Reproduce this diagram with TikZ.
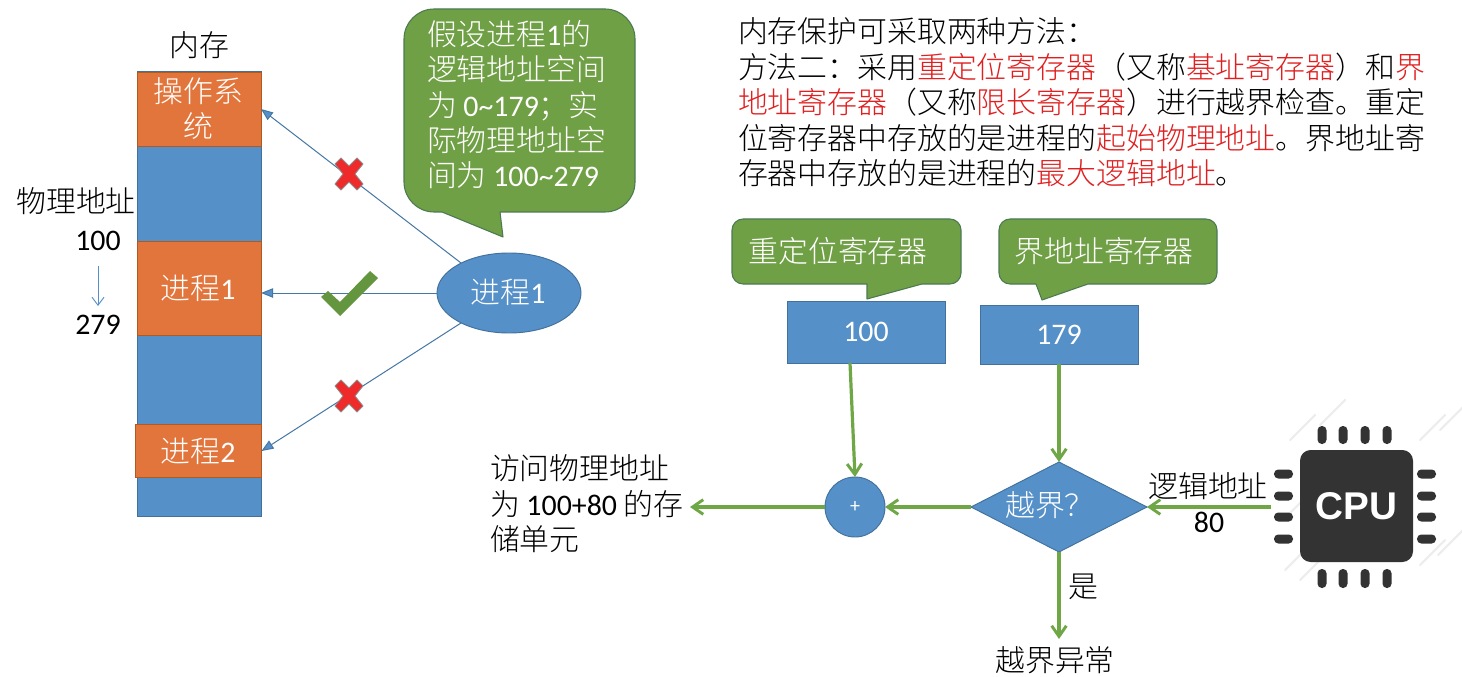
\documentclass[tikz,border=0pt]{standalone}
\usepackage{fontspec}
\setmainfont{Noto Sans CJK SC Light}
\newfontfamily\latinf{Carlito}
\newfontfamily\cpuf{Liberation Sans}
\newcommand\lt[1]{{\latinf #1}}
\newcommand\hl[1]{\textcolor{mred}{#1}}
\usetikzlibrary{arrows.meta,shapes.geometric,calc}
\definecolor{mblue}{HTML}{5590C8}
\definecolor{mborder}{HTML}{41719C}
\definecolor{morange}{HTML}{E2753B}
\definecolor{oborder}{HTML}{AE5A21}
\definecolor{mgreen}{HTML}{70A045}
\definecolor{gborder}{HTML}{507E32}
\definecolor{lgreen}{HTML}{6FA646}
\definecolor{mred}{HTML}{E02020}
\definecolor{xred}{HTML}{EE2A2A}
\definecolor{cpu}{HTML}{333333}
\tikzset{
  x=0.75pt,y=-0.75pt,
  txt/.style={inner sep=0pt,outer sep=0pt,text=black,font=\fontsize{22.4}{26.6}\selectfont},
  wtxt/.style={txt,text=white},
  block/.style={draw=#1,line width=0.7pt,inner sep=0pt,outer sep=0pt},
  thin arrow/.style={draw=mborder!80!mblue,line width=0.75pt,-{Triangle[length=9pt,width=7pt,fill=mblue]}},
  green arrow/.style={draw=lgreen,line width=2.4pt,-{Straight Barb[length=8pt,width=11pt,line width=2.2pt]}},
  callout/.style={fill=mgreen,draw=gborder!70!mborder,line width=0.8pt,line join=round},
  pin/.style={fill=cpu,draw=none,rounded corners=3.2pt},
  hatch/.style={draw=black!7,line width=1.6pt,line cap=round},
  xmark/.style={fill=xred,draw=black!45,line width=0.6pt,line join=round},
}
\begin{document}
\begin{tikzpicture}
\useasboundingbox (0,0) rectangle (1462,677);
\fill[white] (0,0) rectangle (1462,677);
% memory column
\node[block=mborder,fill=mblue,minimum width=93pt,minimum height=333.75pt,anchor=north west] (mem) at (137,71) {};
\node[block=oborder,fill=morange,minimum width=93pt,minimum height=55.5pt,anchor=north west] (os) at (137,72) {};
\node[block=oborder,fill=morange,minimum width=93pt,minimum height=70.5pt,anchor=north west] (proc1) at (137,241.5) {};
\node[block=oborder,fill=morange,minimum width=94.5pt,minimum height=39.75pt,anchor=north west] (proc2) at (135.5,424.5) {};
\node[wtxt,align=center] (ostext) at (198.5,108.5) {操作系\\统};
\node[wtxt] (p1text) at (198,288) {进程\lt{1}};
\node[wtxt] (p2text) at (198,451) {进程\lt{2}};
\node[txt] (memlabel) at (199.5,45) {内存};
\node[txt] (physlabel) at (76,201) {物理地址};
\node[txt] (n100) at (98,241) {\lt{100}};
\node[txt] (n279) at (98,325) {\lt{279}};
\coordinate (dtop) at (98,266);
\coordinate (dbot) at (98,306);
\draw[draw=mblue,line width=0.7pt,-{Straight Barb[length=6pt,width=9pt,line width=0.7pt]}] (dtop) -- (dbot);
% process ellipse
\node[ellipse,fill=mblue,draw=mborder,line width=0.7pt,minimum width=108pt,minimum height=60pt,inner sep=0pt,outer sep=0pt] (ell) at (509,293) {};
\node[wtxt] (elltext) at (508,292) {进程\lt{1}};
\draw[thin arrow] (ell.148) -- (os.east);
\draw[thin arrow] (ell.west) -- (ell.west -| proc1.east);
\draw[thin arrow] (ell.212) -- (proc2.east);
% marks
\draw[xmark] (349,158) ++(-8,0) -- ++(8,8) -- ++(8,-8) -- ++(6,6) -- ++(-8,10) -- ++(8,10) -- ++(-6,6) -- ++(-8,-8) -- ++(-8,8) -- ++(-6,-6) -- ++(8,-10) -- ++(-8,-10) -- cycle;
\draw[xmark] (349,380) ++(-8,0) -- ++(8,8) -- ++(8,-8) -- ++(6,6) -- ++(-8,10) -- ++(8,10) -- ++(-6,6) -- ++(-8,-8) -- ++(-8,8) -- ++(-6,-6) -- ++(8,-10) -- ++(-8,-10) -- cycle;
\fill[fill=lgreen!90!black] (321,297) -- (328,291) -- (340,302) -- (370,271) -- (378,278) -- (340,316) -- cycle;
% big callout
\draw[callout] (434,9) -- (605,9) .. controls (621.5,9) and (635,22.5) .. (635,39) -- (635,182) .. controls (635,198.5) and (621.5,212) .. (605,212) -- (500,212) -- (503,237) -- (442,212) -- (434,212) .. controls (417.5,212) and (404,198.5) .. (404,182) -- (404,39) .. controls (404,22.5) and (417.5,9) .. (434,9) -- cycle;
\node[wtxt,align=left,anchor=north west] (calltext) at (427,20) {假设进程\lt{1}的\\逻辑地址空间\\为 \lt{0\textasciitilde179}；实\\际物理地址空\\间为 \lt{100\textasciitilde279}};
% explanation
\node[txt,anchor=west] (head) at (738,31) {内存保护可采取两种方法：};
\node[txt,align=left,anchor=north west] (para) at (738,53) {方法二：采用\hl{重定位寄存器}（又称\hl{基址寄存器}）和\hl{界}\\\hl{地址寄存器}（又称\hl{限长寄存器}）进行越界检查。重定\\位寄存器中存放的是进程的\hl{起始物理地址}。界地址寄\\存器中存放的是进程的\hl{最大逻辑地址}。};
% register callouts
\draw[callout] (743,219) -- (950,219) .. controls (956,219) and (961,224) .. (961,230) -- (961,273) .. controls (961,279) and (956,284) .. (950,284) -- (922,284) -- (867,299) -- (867,284) -- (743,284) .. controls (737,284) and (732,279) .. (732,273) -- (732,230) .. controls (732,224) and (737,219) .. (743,219) -- cycle;
\node[wtxt] (t1) at (838,251) {重定位寄存器};
\draw[callout] (1010,219) -- (1206,219) .. controls (1212,219) and (1217,224) .. (1217,230) -- (1217,273) .. controls (1217,279) and (1212,284) .. (1206,284) -- (1088,284) -- (1042,300) -- (1036,284) -- (1010,284) .. controls (1004,284) and (999,279) .. (999,273) -- (999,230) .. controls (999,224) and (1004,219) .. (1010,219) -- cycle;
\node[wtxt] (t2) at (1104,251) {界地址寄存器};
\node[block=mborder,fill=mblue,minimum width=118.5pt,minimum height=46.5pt] (base) at (866,332) {};
\node[wtxt] at (base.center) {\lt{100}};
\node[block=mborder,fill=mblue,minimum width=118.5pt,minimum height=44.25pt] (limit) at (1059,334.5) {};
\node[wtxt] at (limit.center) {\lt{179}};
% flow
\node[diamond,aspect=1.955,fill=mblue,draw=mborder,line width=0.7pt,minimum width=132pt,minimum height=67.5pt,inner sep=0pt,outer sep=0pt] (chk) at (1059,507) {};
\node[wtxt] (chktext) at (1050,505) {越界？};
\node[circle,fill=mblue,draw=mborder,line width=0.7pt,minimum size=45pt,inner sep=0pt,outer sep=0pt] (plus) at (855,507) {};
\node[wtxt,font=\fontsize{15}{18}\selectfont\latinf] at (plus.center) {+};
\coordinate (basefoot) at (850,363);
\draw[green arrow] (basefoot) -- (plus.north);
\draw[green arrow] (limit.south) -- (chk.north);
\draw[green arrow] (chk.west) -- (plus.east);
\coordinate (access) at (690,507);
\draw[green arrow] (plus.west) -- (access);
\node[txt,align=left,anchor=north west] (acctext) at (490,455) {访问物理地址\\为 \lt{100+80} 的存\\储单元};
\node[txt] (exc) at (1055,660) {越界异常};
\coordinate (excin) at (1059,639);
\draw[green arrow] (chk.south) -- (excin);
\node[txt] (yes) at (1083,587) {是};
\node[txt] (la) at (1208,486) {逻辑地址};
\node[txt] (n80) at (1209,522) {\lt{80}};
% cpu
\foreach \a/\b in {1290/440,1320/425,1420/440,1440/430,1285/570,1300/580,1420/565,1438/555,1283/520}{
  \draw[hatch] (\a,\b) -- ++(25,-25);
}
\node[fill=cpu,rounded corners=8pt,minimum width=84.75pt,minimum height=84pt,inner sep=0pt,outer sep=0pt] (chip) at (1356.5,506) {};
\foreach \x in {1322,1343,1365,1387}{
  \fill[pin] (\x-4.5,426) rectangle (\x+4.5,444);
  \fill[pin] (\x-4.5,569) rectangle (\x+4.5,588);
}
\foreach \y in {474,496,517,539}{
  \fill[pin] (1274,\y-4.5) rectangle (1293,\y+4.5);
  \fill[pin] (1417,\y-4.5) rectangle (1436,\y+4.5);
}
\node[inner sep=0pt,text=white,font=\fontsize{29}{30}\selectfont\cpuf\bfseries] (cputext) at (chip.center) {CPU};
\coordinate (cpuout) at (1271,507);
\draw[green arrow] (cpuout) -- (chk.east);
\end{tikzpicture}
\end{document}
